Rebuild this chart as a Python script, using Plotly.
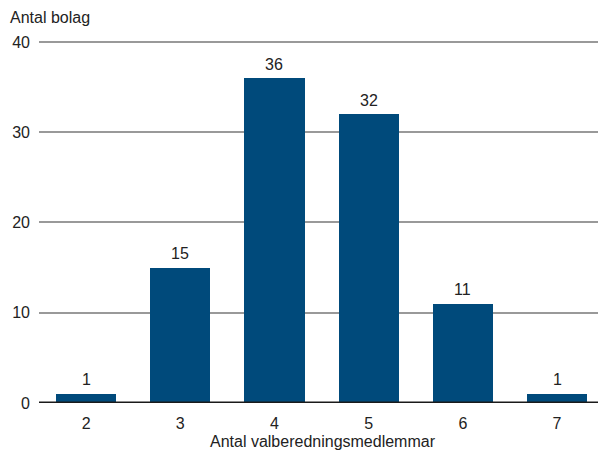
import plotly.graph_objects as go

categories = [2, 3, 4, 5, 6, 7]
values = [1, 15, 36, 32, 11, 1]
y_ticks = [0, 10, 20, 30, 40]

bar_color = "#004a7b"
font = "Liberation Sans, Arial, sans-serif"

fig = go.Figure()
fig.add_trace(go.Bar(
    x=categories, y=values, width=0.64,
    marker=dict(color=bar_color, line=dict(width=0)),
    hoverinfo="skip",
))

for c, v in zip(categories, values):
    fig.add_annotation(x=c, y=v, xref="x", yref="y", text=str(v),
                       showarrow=False, yanchor="middle", yshift=14,
                       font=dict(size=16, color="#222"))

fig.update_layout(
    width=598, height=450,
    margin=dict(l=39, r=0, t=40, b=47),
    paper_bgcolor="white", plot_bgcolor="white",
    showlegend=False,
    font=dict(family=font, size=16, color="#222"),
    xaxis=dict(
        range=[1.5, 7.435], tickmode="array", tickvals=categories,
        ticktext=[str(c) for c in categories],
        showgrid=False, zeroline=False, showline=False, ticks="",
        ticklabelstandoff=9,
        tickfont=dict(size=16, color="#222"), automargin=False,
    ),
    yaxis=dict(
        range=[0, 40.22], tickmode="array", tickvals=y_ticks,
        ticktext=[str(t) for t in y_ticks],
        showgrid=True, gridcolor="#999999", gridwidth=2,
        zeroline=False, showline=False, ticks="",
        ticklabelstandoff=8, automargin=False,
        tickfont=dict(size=16, color="#222"),
    ),
    bargap=0,
)

fig.add_shape(type="line", xref="paper", yref="y", x0=0, x1=1, y0=0, y1=0,
              line=dict(color="#1a1a1a", width=3), layer="above")

fig.add_annotation(text="Antal bolag", xref="paper", yref="paper",
                   x=-31/559, y=1, yshift=23, xanchor="left", yanchor="middle",
                   showarrow=False, font=dict(size=16, color="#222"))
fig.add_annotation(text="Antal valberedningsmedlemmar", xref="paper", yref="paper",
                   x=(323-39)/559, y=0, yshift=-38, xanchor="center", yanchor="middle",
                   showarrow=False, font=dict(size=16, color="#222"))

fig.write_html("out.html", config={"displayModeBar": False},
               post_script="document.body.style.margin='0';document.body.style.padding='0';")
